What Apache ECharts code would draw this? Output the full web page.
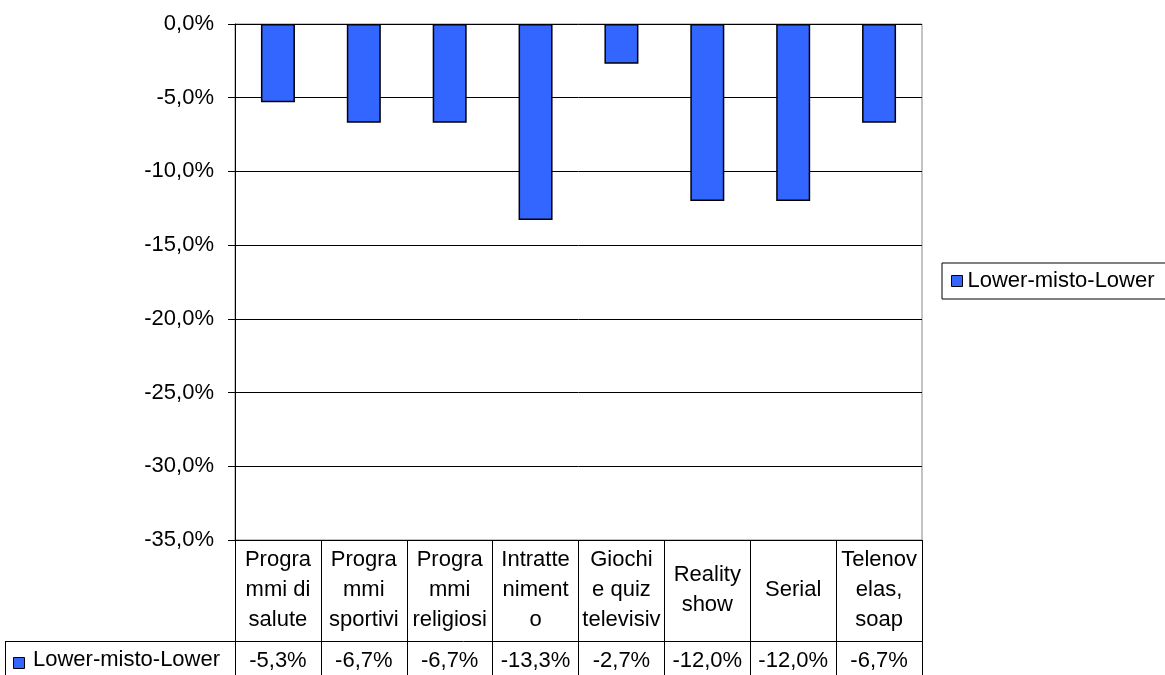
<!DOCTYPE html>
<html>
<head>
<meta charset="utf-8">
<script src="https://cdn.jsdelivr.net/npm/echarts@6/dist/echarts.min.js"></script>
<style>
  html, body { margin: 0; padding: 0; background: #fff; }
  #chart { width: 1165px; height: 675px; }
</style>
</head>
<body>
<div id="chart"></div>
<script>
// Category labels as they are wrapped inside the data-table cells
const categories = [
  'Progra\nmmi di\nsalute',
  'Progra\nmmi\nsportivi',
  'Progra\nmmi\nreligiosi',
  'Intratte\nniment\no',
  'Giochi\ne quiz\ntelevisiv',
  'Reality\nshow',
  'Serial',
  'Telenov\nelas,\nsoap'
];
// Percentage values of the single series
const seriesName = 'Lower-misto-Lower';
const values = [-5.3, -6.7, -6.7, -13.3, -2.7, -12.0, -12.0, -6.7];
// Value axis ticks
const yTicks = [0, -5, -10, -15, -20, -25, -30, -35];

const FONT = "'Liberation Sans', Arial, sans-serif";
const FS = 22;
const BLUE = '#3366FF';
const fmtPct = v => Number(v).toFixed(1).replace('.', ',') + '%';

const chart = echarts.init(document.getElementById('chart'), null, { renderer: 'canvas' });

const gridLeft = 235, gridRight = 922, gridTop = 24, gridBottom = 540;
const rowTop = 641;

chart.setOption({
  animation: false,
  backgroundColor: '#fff',
  textStyle: { fontFamily: FONT },
  grid: {
    left: gridLeft,
    top: gridTop,
    width: gridRight - gridLeft,
    height: gridBottom - gridTop,
    show: true,
    borderColor: '#888',
    borderWidth: 1,
    containLabel: false
  },
  legend: {
    left: 942,
    top: 263,
    orient: 'vertical',
    borderColor: '#000',
    borderWidth: 1,
    padding: [7, 40, 7, 9],
    itemWidth: 11,
    itemHeight: 11,
    icon: 'rect',
    itemStyle: { borderColor: '#000', borderWidth: 1 },
    textStyle: { fontFamily: FONT, fontSize: FS, color: '#000', padding: [0, 0, 0, 0] },
    data: [seriesName]
  },
  xAxis: [
    {
      type: 'category',
      data: categories,
      position: 'bottom',
      axisLine: { onZero: false, lineStyle: { color: '#000', width: 1 } },
      axisTick: { show: true, interval: 0, length: 135, lineStyle: { color: '#000', width: 1 } },
      axisLabel: {
        interval: 0,
        margin: 50,
        verticalAlign: 'middle',
        align: 'center',
        fontFamily: FONT,
        fontSize: FS,
        lineHeight: 30,
        color: '#000'
      },
      splitLine: { show: false }
    },
    {
      type: 'category',
      data: categories,
      position: 'bottom',
      offset: 0,
      axisLine: { show: false },
      axisTick: { show: false },
      axisLabel: {
        interval: 0,
        margin: 121,
        verticalAlign: 'middle',
        align: 'center',
        fontFamily: FONT,
        fontSize: FS,
        color: '#000',
        formatter: (v, i) => fmtPct(values[i])
      }
    }
  ],
  yAxis: {
    type: 'value',
    min: yTicks[yTicks.length - 1],
    max: yTicks[0],
    interval: 5,
    axisLine: { show: true, lineStyle: { color: '#000', width: 1 } },
    axisTick: { show: true, length: 7, lineStyle: { color: '#000' } },
    axisLabel: {
      margin: 21,
      fontFamily: FONT,
      fontSize: FS,
      color: '#000',
      formatter: v => fmtPct(v)
    },
    splitLine: { show: true, lineStyle: { color: '#000', width: 1 } }
  },
  series: [
    {
      name: seriesName,
      type: 'bar',
      xAxisIndex: 0,
      data: values,
      barWidth: 34,
      itemStyle: { color: BLUE, borderColor: '#000', borderWidth: 1.5 }
    }
  ],
  graphic: [
    // data-table row separator and row-header cell
    { type: 'line', shape: { x1: 5, y1: rowTop + 0.5, x2: gridRight, y2: rowTop + 0.5 }, style: { stroke: '#000', lineWidth: 1 } },
    { type: 'line', shape: { x1: 5.5, y1: rowTop, x2: 5.5, y2: 675 }, style: { stroke: '#000', lineWidth: 1 } },
    { type: 'rect', shape: { x: 13.5, y: 657.5, width: 11, height: 11 }, style: { fill: BLUE, stroke: '#000', lineWidth: 1 } },
    { type: 'text', left: 33, top: 649, style: { text: seriesName, font: FS + 'px ' + FONT, fill: '#000' } }
  ]
});
</script>
</body>
</html>
